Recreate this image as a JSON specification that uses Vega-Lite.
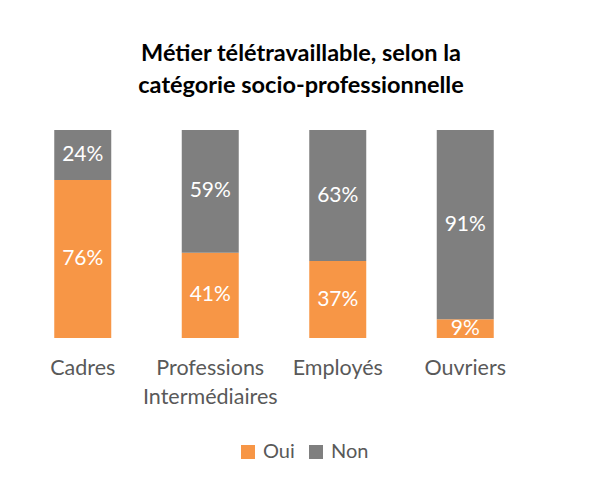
{
  "$schema": "https://vega.github.io/schema/vega-lite/v6.json",
  "autosize": "none",
  "width": 510,
  "height": 208,
  "padding": {"left": 19, "top": 130, "right": 61, "bottom": 144},
  "background": "white",
  "title": {
    "text": ["Métier télétravaillable, selon la", "catégorie socio-professionnelle"],
    "anchor": "middle",
    "frame": "group",
    "dx": 27,
    "offset": 33,
    "font": "Lato",
    "fontSize": 23.5,
    "fontWeight": "bold",
    "color": "#000000",
    "lineHeight": 32
  },
  "data": {
    "values": [
      {"cat": "Cadres", "serie": "Oui", "value": 76},
      {"cat": "Cadres", "serie": "Non", "value": 24},
      {"cat": "Professions Intermédiaires", "serie": "Oui", "value": 41},
      {"cat": "Professions Intermédiaires", "serie": "Non", "value": 59},
      {"cat": "Employés", "serie": "Oui", "value": 37},
      {"cat": "Employés", "serie": "Non", "value": 63},
      {"cat": "Ouvriers", "serie": "Oui", "value": 9},
      {"cat": "Ouvriers", "serie": "Non", "value": 91}
    ]
  },
  "transform": [
    {"stack": "value", "groupby": ["cat"], "sort": [{"field": "serie", "order": "descending"}], "as": ["v0", "v1"]},
    {"calculate": "(datum.v0 + datum.v1) / 2", "as": "mid"},
    {"calculate": "datum.value + '%'", "as": "label"}
  ],
  "encoding": {
    "x": {
      "field": "cat",
      "type": "nominal",
      "sort": ["Cadres", "Professions Intermédiaires", "Employés", "Ouvriers"],
      "scale": {"paddingInner": 0.553, "paddingOuter": 0.2765},
      "axis": {
        "title": null,
        "labelAngle": 0,
        "domain": false,
        "ticks": false,
        "labelPadding": 19,
        "labelFont": "Lato",
        "labelFontSize": 21.5,
        "labelColor": "#595959",
        "labelLineHeight": 29,
        "labelBaseline": "top",
        "labelExpr": "datum.label == 'Professions Intermédiaires' ? ['Professions', 'Intermédiaires'] : datum.label"
      }
    }
  },
  "layer": [
    {
      "mark": {"type": "bar"},
      "encoding": {
        "y": {"field": "v0", "type": "quantitative", "scale": {"domain": [0, 100]}, "axis": null},
        "y2": {"field": "v1"},
        "color": {
          "field": "serie",
          "type": "nominal",
          "scale": {"domain": ["Oui", "Non"], "range": ["#F79646", "#7F7F7F"]},
          "legend": {
            "title": null,
            "orient": "none",
            "direction": "horizontal",
            "legendX": 219,
            "legendY": 312,
            "symbolType": "square",
            "symbolSize": 196,
            "symbolStrokeWidth": 0,
            "symbolOpacity": 1,
            "labelFont": "Lato",
            "labelFontSize": 20,
            "labelColor": "#595959",
            "columnPadding": 11,
            "labelOffset": 5
          }
        }
      }
    },
    {
      "mark": {"type": "text", "color": "white", "font": "Lato", "fontSize": 21, "baseline": "middle"},
      "encoding": {
        "y": {"field": "mid", "type": "quantitative", "scale": {"domain": [0, 100]}},
        "text": {"field": "label", "type": "nominal"}
      }
    }
  ],
  "config": {"view": {"stroke": null}}
}
